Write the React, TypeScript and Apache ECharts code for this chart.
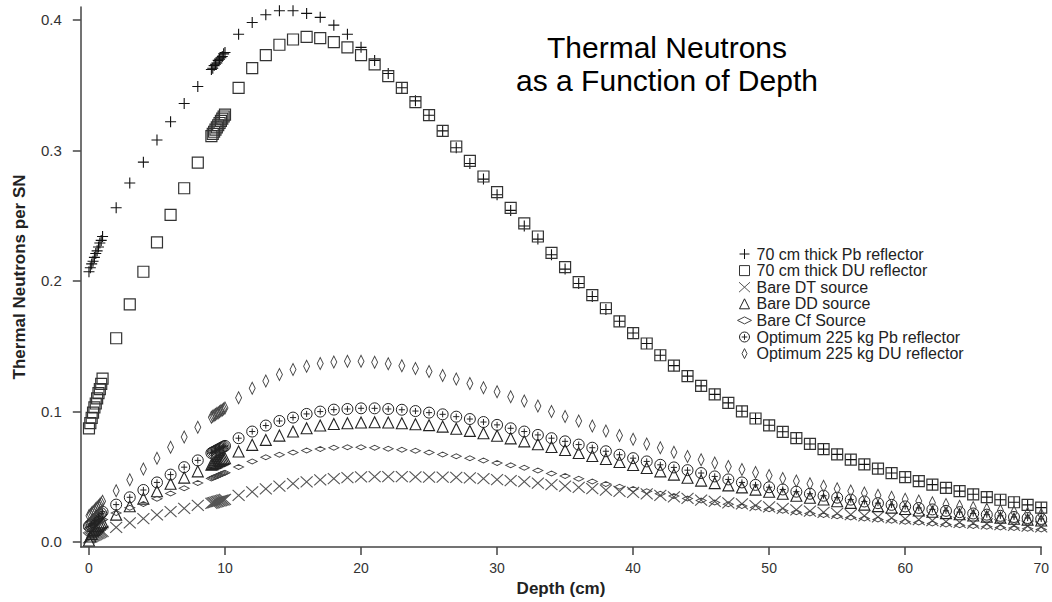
import React, { useEffect, useRef } from "react";
import * as echarts from "echarts";

// Depth positions (cm)
const depth = [
  0, 0.1, 0.2, 0.3, 0.4, 0.5, 0.6, 0.7, 0.8, 0.9, 1,
  2, 3, 4, 5, 6, 7, 8,
  9, 9.1, 9.2, 9.3, 9.4, 9.5, 9.6, 9.7, 9.8, 9.9, 10,
  11, 12, 13, 14, 15, 16, 17, 18, 19, 20,
  21, 22, 23, 24, 25, 26, 27, 28, 29, 30,
  31, 32, 33, 34, 35, 36, 37, 38, 39, 40,
  41, 42, 43, 44, 45, 46, 47, 48, 49, 50,
  51, 52, 53, 54, 55, 56, 57, 58, 59, 60,
  61, 62, 63, 64, 65, 66, 67, 68, 69, 70,
];

const pbReflector = [
  0.207, 0.21, 0.213, 0.215, 0.218, 0.221, 0.223, 0.226, 0.229, 0.231, 0.234,
  0.256, 0.275, 0.291, 0.308, 0.322, 0.336, 0.349,
  0.362, 0.363, 0.365, 0.366, 0.367, 0.369, 0.37, 0.371, 0.372, 0.374, 0.375,
  0.389, 0.398, 0.404, 0.407, 0.407, 0.405, 0.402, 0.396, 0.389, 0.379,
  0.369, 0.359, 0.348, 0.338, 0.327, 0.315, 0.302, 0.29, 0.278, 0.266,
  0.254, 0.242, 0.232, 0.22, 0.209, 0.198, 0.188, 0.178, 0.169, 0.16,
  0.152, 0.143, 0.135, 0.127, 0.1195, 0.113, 0.1065, 0.1, 0.0945, 0.0893,
  0.0843, 0.0794, 0.075, 0.071, 0.067, 0.063, 0.0593, 0.056, 0.0527, 0.0495,
  0.0465, 0.0438, 0.0413, 0.0388, 0.0364, 0.0342, 0.0322, 0.0303, 0.0283, 0.0262,
];

const duReflector = [
  0.087, 0.091, 0.095, 0.099, 0.103, 0.106, 0.11, 0.114, 0.117, 0.121, 0.125,
  0.156, 0.182, 0.207, 0.2295, 0.2506, 0.271, 0.2906,
  0.311, 0.3127, 0.3143, 0.316, 0.3177, 0.3193, 0.321, 0.3227, 0.3243, 0.326, 0.3275,
  0.348, 0.363, 0.373, 0.381, 0.385, 0.387, 0.386, 0.383, 0.379, 0.373,
  0.366, 0.357, 0.348, 0.337, 0.327, 0.315, 0.303, 0.292, 0.28, 0.268,
  0.256, 0.244, 0.234, 0.2215, 0.2105, 0.199, 0.189, 0.179, 0.169, 0.16,
  0.152, 0.143, 0.135, 0.127, 0.1195, 0.113, 0.1065, 0.1, 0.0945, 0.0893,
  0.0843, 0.0794, 0.075, 0.071, 0.067, 0.063, 0.0593, 0.056, 0.0527, 0.0495,
  0.0465, 0.0438, 0.0413, 0.0388, 0.0364, 0.0342, 0.0322, 0.0303, 0.0283, 0.0262,
];

const bareDT = [
  0.003, 0.0035, 0.004, 0.0045, 0.005, 0.0055, 0.006, 0.0065, 0.007, 0.0075, 0.008,
  0.011, 0.0145, 0.0178, 0.0206, 0.0232, 0.0256, 0.028,
  0.0295, 0.0298, 0.0301, 0.0304, 0.0307, 0.031, 0.0313, 0.0316, 0.0319, 0.0322, 0.0325,
  0.0355, 0.0383, 0.0405, 0.0427, 0.0445, 0.046, 0.0474, 0.0485, 0.0492, 0.0497,
  0.0499, 0.0499, 0.0499, 0.0497, 0.0496, 0.0495, 0.0493, 0.0489, 0.0484, 0.0477,
  0.0469, 0.0462, 0.045, 0.0438, 0.0427, 0.0417, 0.0407, 0.0396, 0.0387, 0.0378,
  0.0368, 0.0356, 0.0344, 0.0332, 0.0319, 0.0309, 0.0299, 0.029, 0.0278, 0.0267,
  0.0256, 0.0245, 0.0235, 0.0226, 0.0217, 0.0208, 0.0199, 0.0191, 0.0183, 0.0176,
  0.0169, 0.0162, 0.0155, 0.0149, 0.0143, 0.0137, 0.0131, 0.0126, 0.012, 0.0115,
];

const bareDD = [
  0.001, 0.004, 0.006, 0.008, 0.009, 0.01, 0.011, 0.012, 0.013, 0.014, 0.015,
  0.0208, 0.0272, 0.0331, 0.0387, 0.0445, 0.0492, 0.054,
  0.059, 0.0595, 0.06, 0.0605, 0.061, 0.0615, 0.062, 0.0625, 0.063, 0.0635, 0.064,
  0.0692, 0.0743, 0.0781, 0.0814, 0.0845, 0.087, 0.0891, 0.0903, 0.0908, 0.0914,
  0.0916, 0.0914, 0.0908, 0.0901, 0.0894, 0.0883, 0.0866, 0.085, 0.0832, 0.0813,
  0.0793, 0.077, 0.0748, 0.0726, 0.0704, 0.0681, 0.0658, 0.0634, 0.0611, 0.0589,
  0.0565, 0.054, 0.0515, 0.0491, 0.0469, 0.045, 0.0432, 0.0417, 0.04, 0.0384,
  0.0368, 0.0353, 0.0338, 0.0324, 0.0311, 0.0298, 0.0285, 0.0273, 0.0262, 0.0251,
  0.024, 0.023, 0.022, 0.0211, 0.0202, 0.0193, 0.0185, 0.0177, 0.017, 0.0163,
];

const bareCf = [
  0.01, 0.0107, 0.0114, 0.0121, 0.0128, 0.0135, 0.0142, 0.0149, 0.0156, 0.0163, 0.017,
  0.022, 0.026, 0.029, 0.033, 0.037, 0.041, 0.045,
  0.0485, 0.049, 0.0494, 0.0499, 0.0503, 0.0508, 0.0512, 0.0517, 0.0521, 0.0526, 0.053,
  0.0573, 0.0616, 0.0647, 0.0667, 0.0685, 0.07, 0.0712, 0.0721, 0.0725, 0.0725,
  0.0721, 0.0713, 0.0705, 0.0697, 0.0684, 0.0669, 0.0655, 0.064, 0.0623, 0.0604,
  0.0586, 0.0568, 0.0546, 0.0524, 0.0505, 0.0484, 0.0463, 0.0443, 0.0422, 0.0405,
  0.0387, 0.0369, 0.035, 0.0332, 0.0316, 0.0302, 0.0287, 0.0275, 0.0262, 0.025,
  0.0238, 0.0227, 0.0216, 0.0206, 0.0196, 0.0187, 0.0178, 0.017, 0.0162, 0.0154,
  0.0147, 0.014, 0.0133, 0.0127, 0.0121, 0.0115, 0.011, 0.0105, 0.01, 0.0095,
];

const optPb = [
  0.012, 0.013, 0.014, 0.0151, 0.0162, 0.0173, 0.0184, 0.0195, 0.0206, 0.0218, 0.023,
  0.0285, 0.0341, 0.0397, 0.0455, 0.0515, 0.0572, 0.0624,
  0.068, 0.0685, 0.0691, 0.0696, 0.0702, 0.0707, 0.0713, 0.0718, 0.0724, 0.0729, 0.0735,
  0.0794, 0.0845, 0.0891, 0.0926, 0.0952, 0.098, 0.0998, 0.1013, 0.1018, 0.1023,
  0.1023, 0.1018, 0.1012, 0.1002, 0.099, 0.0977, 0.0959, 0.0941, 0.0918, 0.0896,
  0.087, 0.0845, 0.0819, 0.0794, 0.077, 0.0745, 0.0721, 0.0694, 0.0667, 0.0641,
  0.0616, 0.059, 0.057, 0.0549, 0.0527, 0.0501, 0.0478, 0.0455, 0.0436, 0.0418,
  0.0401, 0.0384, 0.0368, 0.0353, 0.0338, 0.0323, 0.0309, 0.0296, 0.0283, 0.0271,
  0.0259, 0.0248, 0.0237, 0.0227, 0.0217, 0.0208, 0.0199, 0.019, 0.0182, 0.0175,
];

const optDU = [
  0.02, 0.021, 0.022, 0.0231, 0.0242, 0.0253, 0.0264, 0.0275, 0.0286, 0.0298, 0.031,
  0.0392, 0.0476, 0.0557, 0.0641, 0.0725, 0.0804, 0.0878,
  0.0955, 0.0962, 0.0969, 0.0976, 0.0983, 0.099, 0.0997, 0.1004, 0.1011, 0.1018, 0.1025,
  0.1104, 0.1176, 0.1232, 0.1282, 0.132, 0.1346, 0.1366, 0.1379, 0.1384, 0.1384,
  0.1377, 0.1365, 0.1349, 0.1328, 0.1305, 0.1274, 0.1247, 0.1214, 0.1181, 0.115,
  0.1112, 0.1079, 0.1041, 0.0999, 0.096, 0.0926, 0.0888, 0.085, 0.0814, 0.0786,
  0.075, 0.0721, 0.0687, 0.0654, 0.0628, 0.0603, 0.0578, 0.0555, 0.0531, 0.0508,
  0.0486, 0.0465, 0.0445, 0.0426, 0.0407, 0.039, 0.0373, 0.0357, 0.0341, 0.0326,
  0.0312, 0.0299, 0.0286, 0.0273, 0.0262, 0.025, 0.024, 0.0229, 0.0219, 0.021,
];

const seriesNames = [
  "70 cm thick Pb reflector",
  "70 cm thick DU reflector",
  "Bare DT source",
  "Bare DD source",
  "Bare Cf Source",
  "Optimum 225 kg Pb reflector",
  "Optimum 225 kg DU reflector",
];

const yTicks = [0, 0.1, 0.2, 0.3, 0.4];
const xTicks = [0, 10, 20, 30, 40, 50, 60, 70];

const FONT = '"Liberation Sans", Arial, Helvetica, sans-serif';

const SYM_PLUS = "path://M5,0L5,10M0,5L10,5";
const SYM_SQUARE = "path://M0,0L10,0L10,10L0,10Z";
const SYM_CROSS = "path://M0,0L11,10M11,0L0,10";
const SYM_TRI = "path://M5,0L10,10L0,10Z";
const SYM_FLAT = "path://M0,2.5L5,0L10,2.5L5,5Z";
const SYM_CPLUS =
  "path://M0,5A5,5,0,1,1,10,5A5,5,0,1,1,0,5ZM5,2.2L5,7.8M2.2,5L7.8,5";
const SYM_THIN = "path://M5,0L10,10L5,20L0,10Z";

export default function App() {
  const ref = useRef<HTMLDivElement>(null);

  useEffect(() => {
    if (!ref.current) return;
    const chart = echarts.init(ref.current, null, { renderer: "svg" });

    const specs = [
      { vals: pbReflector, sym: SYM_PLUS, size: [11, 11], color: "#111", w: 1.1 },
      { vals: duReflector, sym: SYM_SQUARE, size: [11, 11], color: "#333", w: 1.2 },
      { vals: bareDT, sym: SYM_CROSS, size: [12, 11], color: "#555", w: 1.1 },
      { vals: bareDD, sym: SYM_TRI, size: [11, 11], color: "#222", w: 1.1 },
      { vals: bareCf, sym: SYM_FLAT, size: [10, 5], color: "#444", w: 1 },
      { vals: optPb, sym: SYM_CPLUS, size: [11, 11], color: "#222", w: 1 },
      { vals: optDU, sym: SYM_THIN, size: [6, 12], color: "#444", w: 1 },
    ];

    const series = specs.map((s, k) => ({
      name: seriesNames[k],
      type: "scatter",
      data: depth.map((d, i) => [d, s.vals[i]]),
      symbol: s.sym,
      symbolSize: s.size,
      symbolKeepAspect: false,
      clip: false,
      itemStyle: {
        color: "rgba(0,0,0,0)",
        borderColor: s.color,
        borderWidth: s.w,
        opacity: 1,
      },
      emphasis: { disabled: true },
      silent: true,
    }));

    const axisColor = "#444";

    chart.setOption({
      animation: false,
      backgroundColor: "#ffffff",
      textStyle: { fontFamily: FONT },
      grid: { left: 80.8, right: 5, top: 6.9, bottom: 52.8 },
      xAxis: {
        type: "value",
        min: -0.6,
        max: 70,
        name: "Depth (cm)",
        nameLocation: "middle",
        nameGap: 33,
        nameTextStyle: { fontFamily: FONT, fontSize: 17, fontWeight: "bold", color: "#222" },
        axisLine: { show: true, onZero: false, lineStyle: { color: axisColor, width: 1.5 } },
        axisTick: { show: true, length: 8, customValues: xTicks, lineStyle: { color: axisColor, width: 1.5 } },
        axisLabel: {
          customValues: xTicks,
          formatter: (v: number) => String(v),
          margin: 14,
          fontSize: 14,
          color: "#333",
          fontFamily: FONT,
        },
        splitLine: { show: false },
      },
      yAxis: {
        type: "value",
        min: -0.004,
        max: 0.41,
        name: "Thermal Neutrons per SN",
        nameLocation: "middle",
        nameGap: 53,
        nameRotate: 90,
        nameTextStyle: { fontFamily: FONT, fontSize: 17, fontWeight: "bold", color: "#222" },
        axisLine: { show: true, onZero: false, lineStyle: { color: axisColor, width: 1.5 } },
        axisTick: { show: true, length: 8, customValues: yTicks, lineStyle: { color: axisColor, width: 1.5 } },
        axisLabel: {
          customValues: yTicks,
          formatter: (v: number) => v.toFixed(1),
          margin: 19,
          fontSize: 15,
          color: "#333",
          fontFamily: FONT,
        },
        splitLine: { show: false },
      },
      legend: {
        orient: "vertical",
        left: 732,
        top: 241,
        itemWidth: 14,
        itemHeight: 10,
        itemGap: 0.6,
        selectedMode: false,
        symbolKeepAspect: true,
        textStyle: { fontFamily: FONT, fontSize: 16, color: "#222", lineHeight: 16 },
        data: seriesNames.map((n, k) => ({
          name: n,
          icon: specs[k].sym,
          itemStyle: {
            color: "rgba(0,0,0,0)",
            borderColor: specs[k].color,
            borderWidth: 1,
          },
        })),
      },
      graphic: [
        {
          type: "text",
          x: 667,
          y: 47,
          style: {
            text: "Thermal Neutrons",
            font: `30px ${FONT}`,
            fill: "#000",
            align: "center",
            verticalAlign: "middle",
            textAlign: "center",
            textVerticalAlign: "middle",
          },
        },
        {
          type: "text",
          x: 667,
          y: 80,
          style: {
            text: "as a Function of Depth",
            font: `30px ${FONT}`,
            fill: "#000",
            align: "center",
            verticalAlign: "middle",
            textAlign: "center",
            textVerticalAlign: "middle",
          },
        },
      ],
      series,
    });

    return () => {
      chart.dispose();
    };
  }, []);

  return (
    <div
      ref={ref}
      style={{
        position: "absolute",
        left: 0,
        top: 0,
        width: 1052,
        height: 602,
        background: "#fff",
      }}
    />
  );
}
